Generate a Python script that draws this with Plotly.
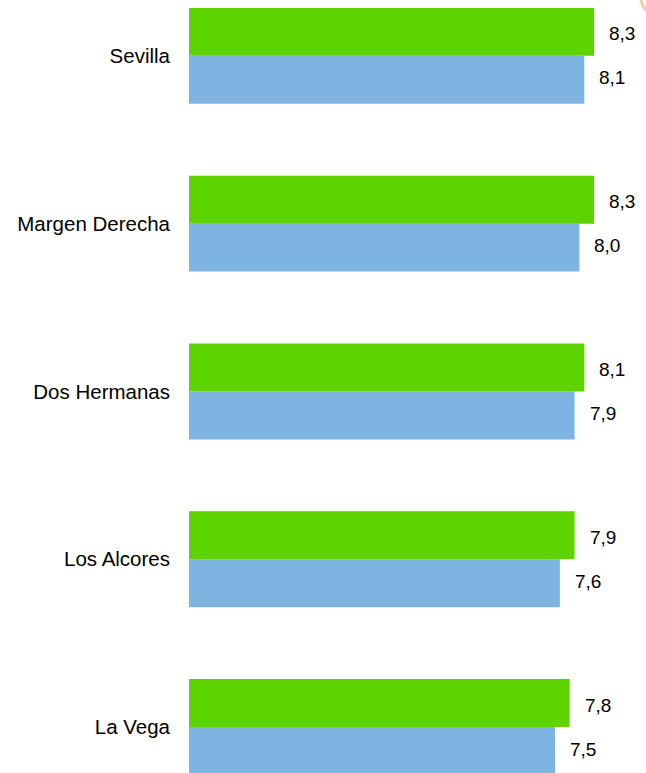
import plotly.graph_objects as go

categories = ["Sevilla", "Margen Derecha", "Dos Hermanas", "Los Alcores", "La Vega"]
green_values = [8.3, 8.3, 8.1, 7.9, 7.8]
blue_values = [8.1, 8.0, 7.9, 7.6, 7.5]

def fmt(v):
    return f"{v:.1f}".replace(".", ",")

# reverse so first category appears at top
cats_r = categories[::-1]
green_r = green_values[::-1]
blue_r = blue_values[::-1]

fig = go.Figure()
fig.add_trace(go.Bar(y=cats_r, x=blue_r, orientation="h", marker=dict(color="#7DB4E2", line=dict(width=0)),
                     name="blue", showlegend=False))
fig.add_trace(go.Bar(y=cats_r, x=green_r, orientation="h", marker=dict(color="#5DD300", line=dict(width=0)),
                     name="green", showlegend=False))

annotations = []
for i, c in enumerate(cats_r):
    annotations.append(dict(x=green_r[i], y=c, text=fmt(green_r[i]), showarrow=False, xanchor="left",
                            xshift=13, yshift=22, font=dict(size=19, color="#000000")))
    annotations.append(dict(x=blue_r[i], y=c, text=fmt(blue_r[i]), showarrow=False, xanchor="left",
                            xshift=13, yshift=-22, font=dict(size=19, color="#000000")))

fig.update_layout(
    width=646, height=773,
    margin=dict(l=189, r=0, t=0, b=0),
    paper_bgcolor="white", plot_bgcolor="white",
    barmode="group", bargap=0.4286, bargroupgap=0,
    font=dict(family="Liberation Sans, Arial, sans-serif", size=21, color="#000000"),
    xaxis=dict(range=[0, 457 / 48.8], visible=False, showgrid=False, zeroline=False),
    yaxis=dict(range=[-0.274, 4.333], showgrid=False, zeroline=False, showline=False, ticks="",
               ticklabelstandoff=18, tickfont=dict(size=20.5)),
    annotations=annotations,
    shapes=[dict(type="circle", xref="paper", yref="paper",
                 x0=0.988, x1=1.05, y0=0.982, y1=1.03,
                 line=dict(color="#F3C9A8", width=3))],
)
fig.write_html("out.html")
